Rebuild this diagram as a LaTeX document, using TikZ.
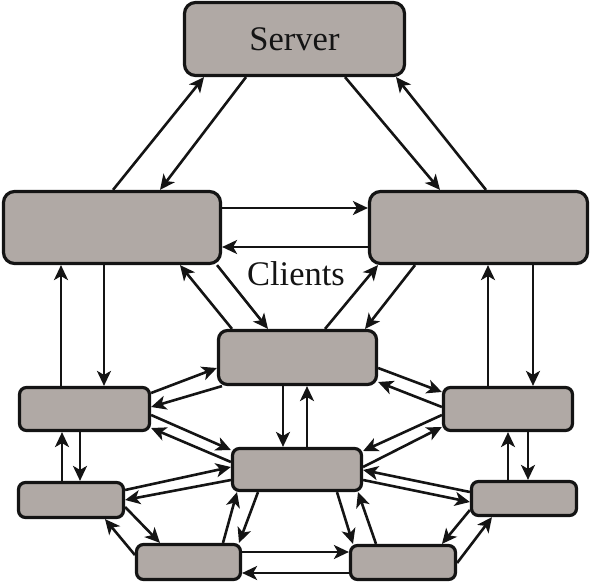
\documentclass[tikz,border=0pt]{standalone}
\usepackage{fontspec}
\setmainfont{Liberation Serif}
\usetikzlibrary{arrows.meta}
\definecolor{boxfill}{RGB}{176,169,165}
\definecolor{ink}{RGB}{20,20,20}
\begin{document}
\begin{tikzpicture}[x=1pt,y=-1pt,
  box/.style={draw=ink,fill=boxfill,line width=3.2pt,rounded corners=#1,inner sep=0pt},
  box/.default=7pt,
  con/.style={draw=ink,line width=2.6pt,-{Stealth[length=15pt,width=14pt,inset=4pt]}},
  lbl/.style={font=\fontsize{34.5}{40}\selectfont,text=ink}]
\useasboundingbox (0,0) rectangle (590,583);
% nodes
\node[box=11pt,minimum width=220pt,minimum height=73pt,lbl] (S) at (294.5,39) {Server};
\node[box=11pt,minimum width=217pt,minimum height=72pt] (L1) at (112,227.5) {};
\node[box=11pt,minimum width=218pt,minimum height=72pt] (R1) at (478.5,227.5) {};
\node[box=9pt,minimum width=158pt,minimum height=54pt] (C1) at (297.5,357.5) {};
\node[box,minimum width=130pt,minimum height=43pt] (L2) at (84.5,409) {};
\node[box,minimum width=129pt,minimum height=43pt] (R2) at (508,409) {};
\node[box,minimum width=129pt,minimum height=42pt] (C2) at (297,469.5) {};
\node[box,minimum width=105pt,minimum height=35pt] (L3) at (71,500) {};
\node[box,minimum width=105pt,minimum height=34pt] (R3) at (524,498.5) {};
\node[box,minimum width=104pt,minimum height=35pt] (B1) at (188.5,562) {};
\node[box,minimum width=105pt,minimum height=34pt] (B2) at (403,562.5) {};
\node[lbl] (clients) at (296,274) {Clients};
% server links
\draw[con] (113,0 |- L1.north) -- (204,0 |- S.south);
\draw[con] (246,0 |- S.south) -- (160,0 |- L1.north);
\draw[con] (345,0 |- S.south) -- (440,0 |- R1.north);
\draw[con] (486,0 |- R1.north) -- (396,0 |- S.south);
% L1-R1
\draw[con] (L1.east |- 0,208) -- (R1.west |- 0,208);
\draw[con] (R1.west |- 0,247) -- (L1.east |- 0,247);
% L1-C1, R1-C1
\draw[con] (232,0 |- C1.north) -- (180,0 |- L1.south);
\draw[con] (217,0 |- L1.south) -- (268,0 |- C1.north);
\draw[con] (325,0 |- C1.north) -- (378,0 |- R1.south);
\draw[con] (415,0 |- R1.south) -- (365,0 |- C1.north);
% L1-L2, R1-R2
\draw[con] (61,0 |- L2.north) -- (61,0 |- L1.south);
\draw[con] (104,0 |- L1.south) -- (104,0 |- L2.north);
\draw[con] (488,0 |- R2.north) -- (488,0 |- R1.south);
\draw[con] (533,0 |- R1.south) -- (533,0 |- R2.north);
% L2-C1, L2-C2
\draw[con] (L2.east |- 0,393) -- (C1.west |- 0,368);
\draw[con] (222,0 |- C1.south) -- (L2.east |- 0,407);
\draw[con] (L2.east |- 0,415) -- (C2.west |- 0,450);
\draw[con] (C2.west |- 0,462) -- (L2.east |- 0,428);
% C1-C2
\draw[con] (283,0 |- C1.south) -- (283,0 |- C2.north);
\draw[con] (307,0 |- C2.north) -- (307,0 |- C1.south);
% R2-C1, R2-C2
\draw[con] (C1.east |- 0,368) -- (R2.west |- 0,392);
\draw[con] (R2.west |- 0,407) -- (C1.east |- 0,382);
\draw[con] (R2.west |- 0,415) -- (C2.east |- 0,451);
\draw[con] (C2.east |- 0,467) -- (R2.west |- 0,427);
% L2-L3, R2-R3
\draw[con] (62,0 |- L3.north) -- (62,0 |- L2.south);
\draw[con] (80,0 |- L2.south) -- (80,0 |- L3.north);
\draw[con] (508,0 |- R3.north) -- (508,0 |- R2.south);
\draw[con] (528,0 |- R2.south) -- (528,0 |- R3.north);
% L3-C2, R3-C2
\draw[con] (L3.east |- 0,490) -- (C2.west |- 0,467);
\draw[con] (C2.west |- 0,480) -- (L3.east |- 0,500);
\draw[con] (R3.west |- 0,492) -- (C2.east |- 0,470);
\draw[con] (C2.east |- 0,480) -- (R3.west |- 0,502);
% L3-B1, R3-B2
\draw[con] (L3.east |- 0,507) -- (160,0 |- B1.north);
\draw[con] (B1.west |- 0,555) -- (105,0 |- L3.south);
\draw[con] (R3.west |- 0,510) -- (442,0 |- B2.north);
\draw[con] (B2.east |- 0,563) -- (492,0 |- R3.south);
% B1-C2, B2-C2
\draw[con] (223,0 |- B1.north) -- (237,0 |- C2.south);
\draw[con] (258,0 |- C2.south) -- (239,0 |- B1.north);
\draw[con] (337,0 |- C2.south) -- (353,0 |- B2.north);
\draw[con] (376,0 |- B2.north) -- (358,0 |- C2.south);
% B1-B2
\draw[con] (B1.east |- 0,552) -- (B2.west |- 0,552);
\draw[con] (B2.west |- 0,573) -- (B1.east |- 0,573);
\end{tikzpicture}
\end{document}
